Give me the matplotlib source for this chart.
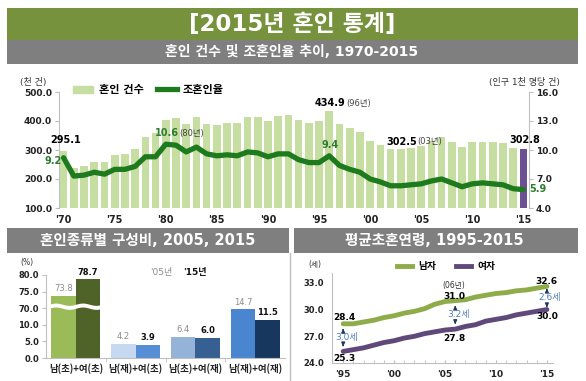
import matplotlib.pyplot as plt
from matplotlib.patches import Rectangle, Patch
from matplotlib.lines import Line2D
import numpy as np

plt.rcParams['font.family'] = ['DejaVu Sans', 'Noto Sans CJK KR']

W, H = 586, 381

# ---- data ----
years = list(range(1970, 2016))
marriages = [295.1, 239.5, 244.8, 259.1, 259.6, 283.2, 286.0, 305.1, 345.1, 358.6,
             403.0, 409.4, 390.2, 414.4, 388.8, 385.0, 394.1, 392.6, 412.3, 413.3,
             399.3, 416.9, 419.8, 402.6, 393.1, 398.5, 434.9, 388.6, 375.6, 362.7,
             332.1, 318.4, 304.9, 302.5, 308.6, 314.3, 330.6, 343.6, 327.7, 309.8,
             326.1, 329.1, 327.1, 322.8, 305.5, 302.8]
rates = [9.2, 7.3, 7.4, 7.7, 7.5, 8.0, 8.0, 8.3, 9.3, 9.3,
         10.6, 10.5, 9.8, 10.3, 9.6, 9.4, 9.5, 9.4, 9.8, 9.7,
         9.3, 9.6, 9.6, 9.0, 8.7, 8.7, 9.4, 8.4, 8.0, 7.7,
         7.0, 6.7, 6.3, 6.3, 6.4, 6.5, 6.8, 7.0, 6.6, 6.2,
         6.5, 6.6, 6.5, 6.4, 6.0, 5.9]
left_ticks = [100, 200, 300, 400, 500]
right_ticks = [4, 7, 10, 13, 16]
xtick_years = [1970, 1975, 1980, 1985, 1990, 1995, 2000, 2005, 2010, 2015]
xtick_labels = ["'70", "'75", "'80", "'85", "'90", "'95", "'00", "'05", "'10", "'15"]

types = ['남(초)+여(초)', '남(재)+여(초)', '남(초)+여(재)', '남(재)+여(재)']
share_05 = [73.8, 4.2, 6.4, 14.7]
share_15 = [78.7, 3.9, 6.0, 11.5]
share_ticks = [0.0, 5.0, 10.0, 70.0, 75.0, 80.0]

age_years = list(range(1995, 2016))
age_men = [28.4, 28.4, 28.6, 28.8, 29.1, 29.3, 29.6, 29.8, 30.1, 30.6, 30.9,
           31.0, 31.1, 31.4, 31.6, 31.8, 31.9, 32.1, 32.2, 32.4, 32.6]
age_women = [25.3, 25.5, 25.7, 26.0, 26.3, 26.5, 26.8, 27.0, 27.3, 27.5, 27.7,
             27.8, 28.1, 28.3, 28.7, 28.9, 29.1, 29.4, 29.6, 29.8, 30.0]
gap_years = [1995, 2006, 2015]
gap_labels = ['3.0세', '3.2세', '2.6세']


def fx(x):
    return x / W


def fy(y):
    return 1 - y / H


def box(fig, x0, y0, x1, y1, color):
    fig.add_artist(Rectangle((fx(x0), fy(y1)), (x1 - x0) / W, (y1 - y0) / H,
                             transform=fig.transFigure, color=color, lw=0, zorder=0))


def axes_px(fig, x0, y0, x1, y1):
    return fig.add_axes([fx(x0), fy(y1), (x1 - x0) / W, (y1 - y0) / H])


fig = plt.figure(figsize=(W / 100, H / 100), dpi=100)

# ---- banners ----
box(fig, 7, 8, 578, 40, '#76923c')
box(fig, 7, 40, 578, 64, '#7f7f7f')
fig.text(fx(292), fy(24), '[2015년 혼인 통계]', color='white', fontsize=16.5,
         fontweight='bold', ha='center', va='center')
fig.text(fx(292), fy(52), '혼인 건수 및 조혼인율 추이, 1970-2015', color='white',
         fontsize=10, fontweight='bold', ha='center', va='center')
box(fig, 7, 228, 289, 253, '#7f7f7f')
box(fig, 294, 228, 578, 253, '#7f7f7f')
fig.text(fx(148), fy(241), '혼인종류별 구성비, 2005, 2015', color='white',
         fontsize=10.5, fontweight='bold', ha='center', va='center')
fig.text(fx(434), fy(241), '평균초혼연령, 1995-2015', color='white',
         fontsize=10.5, fontweight='bold', ha='center', va='center')
fig.add_artist(Line2D([fx(290), fx(290)], [fy(253), fy(381)], transform=fig.transFigure,
                      color='#bfbfbf', lw=1))

# ---- main chart ----
ax1 = axes_px(fig, 59, 92, 529, 208)
bar_colors = ['#c6dea2'] * (len(years) - 1) + ['#6b5192']
ax1.bar(years, marriages, width=0.75, color=bar_colors, zorder=1)
ax1.set_xlim(1969.55, 2015.55)
ax1.set_ylim(100, 500)
ax1.set_yticks(left_ticks)
ax1.set_yticklabels(['%.1f' % v for v in left_ticks], fontsize=6.5, fontweight='bold',
                    color='#222222')
ax1.set_xticks(xtick_years)
ax1.set_xticklabels(xtick_labels, fontsize=7, fontweight='bold', color='#222222')
ax1.tick_params(axis='x', length=0, pad=5)
ax1.tick_params(axis='y', length=3, color='#bfbfbf', pad=2)
for s in ['top', 'bottom', 'right']:
    ax1.spines[s].set_visible(False)
ax1.spines['left'].set_color('#bfbfbf')

ax2 = ax1.twinx()
ax2.plot(years, rates, color='#1d7a1d', lw=3.8, solid_capstyle='round', zorder=3)
ax2.set_ylim(4, 16)
ax2.set_yticks(right_ticks)
ax2.set_yticklabels(['%.1f' % v for v in right_ticks], fontsize=6.5, fontweight='bold',
                    color='#222222')
ax2.tick_params(axis='y', length=3, color='#bfbfbf', pad=2)
for s in ['top', 'bottom', 'left']:
    ax2.spines[s].set_visible(False)
ax2.spines['right'].set_color('#bfbfbf')

fig.text(fx(20), fy(82), '(천 건)', fontsize=6.5, color='#333333', va='center')
fig.text(fx(560), fy(82), '(인구 1천 명당 건)', fontsize=6.5, color='#333333',
         va='center', ha='right')

ax1.text(1970.2, 318, '295.1', fontsize=7, fontweight='bold', ha='center', va='bottom')
ax2.text(1968.95, 8.85, '9.2', fontsize=7, fontweight='bold', color='#2e7d2e',
         ha='center', va='center')
t = ax2.text(1978.95, 11.75, '10.6', fontsize=7, fontweight='bold', color='#2e7d2e',
             va='center')
ax2.annotate('(80년)', xycoords=t, xy=(1, 0.5), xytext=(0.5, 0), textcoords='offset points',
             fontsize=6, color='#444444', va='center')
t = ax1.text(1994.6, 462, '434.9', fontsize=7, fontweight='bold', va='center')
ax1.annotate('(96년)', xycoords=t, xy=(1, 0.5), xytext=(0.5, 0), textcoords='offset points',
             fontsize=6, color='#444444', va='center')
ax2.text(1996.1, 10.5, '9.4', fontsize=7, fontweight='bold', color='#2e7d2e',
         ha='center', va='center')
t = ax1.text(2001.55, 328, '302.5', fontsize=7, fontweight='bold', va='center')
ax1.annotate('(03년)', xycoords=t, xy=(1, 0.5), xytext=(0.5, 0), textcoords='offset points',
             fontsize=6, color='#444444', va='center')
ax1.text(2015.1, 334, '302.8', fontsize=7, fontweight='bold', ha='center', va='center')
ax2.text(2015.6, 5.97, '5.9', fontsize=7, fontweight='bold', color='#2e7d2e',
         ha='left', va='center')

handles = [Patch(color='#c6dea2'), Line2D([0], [0], color='#1d7a1d', lw=3.8)]
fig.legend(handles, ['혼인 건수', '조혼인율'], loc='center left',
           bbox_to_anchor=(fx(63), fy(90)), ncol=2, frameon=False,
           handlelength=1.8, handleheight=0.6, columnspacing=1.2, handletextpad=0.5,
           prop={'weight': 'bold', 'size': 8})

# ---- lower left: marriage types ----
def brk(v):
    return v - 55 if v > 50 else v


ax3 = axes_px(fig, 46, 275, 285, 358)
xs = np.arange(len(types))
bw = 0.41
c05 = ['#9bbb59', '#c6d9f1', '#95b3d7', '#4a86d0']
c15 = ['#4f6228', '#558ed5', '#366092', '#17375e']
ax3.bar(xs - bw / 2, [brk(v) for v in share_05], width=bw, color=c05, zorder=2)
ax3.bar(xs + bw / 2, [brk(v) for v in share_15], width=bw, color=c15, zorder=2)
for i in range(len(types)):
    ax3.text(xs[i] - bw / 2, brk(share_05[i]) + 0.8, '%.1f' % share_05[i], fontsize=6,
             color='#8c8c8c', ha='center', va='bottom')
    ax3.text(xs[i] + bw / 2, brk(share_15[i]) + 0.8, '%.1f' % share_15[i], fontsize=6,
             fontweight='bold', color='#111111', ha='center', va='bottom')
# white wavy break across the first pair of bars
wx = np.linspace(-0.45, 0.45, 60)
wave = 0.35 * np.sin(wx * 2 * np.pi / 0.45)
ax3.fill_between(wx, 15.0 + wave, 16.2 + wave, color='white', zorder=3, lw=0)
ax3.set_xlim(-0.5, 3.5)
ax3.set_ylim(0, 25)
ax3.set_yticks([brk(v) for v in share_ticks])
ax3.set_yticklabels(['%.1f' % v for v in share_ticks], fontsize=6, fontweight='bold',
                    color='#222222')
ax3.set_xticks(xs)
ax3.set_xticklabels(types, fontsize=6.8, fontweight='bold', color='#222222',
                    family='Noto Sans CJK KR')
ax3.set_xticks([0.5, 1.5, 2.5], minor=True)
ax3.tick_params(axis='x', which='major', length=0, pad=4)
ax3.tick_params(axis='x', which='minor', length=3, color='#bfbfbf')
ax3.tick_params(axis='y', length=3, color='#bfbfbf', pad=2)
for s in ['top', 'right']:
    ax3.spines[s].set_visible(False)
for s in ['left', 'bottom']:
    ax3.spines[s].set_color('#bfbfbf')
fig.text(fx(20), fy(263), '(%)', fontsize=5.5, color='#333333', va='center')
fig.text(fx(150), fy(273), "'05년", fontsize=6.5, color='#8c8c8c', va='center')
fig.text(fx(183), fy(273), "'15년", fontsize=6.5, fontweight='bold', color='#111111',
         va='center')

# ---- lower right: mean age at first marriage ----
ax4 = axes_px(fig, 332, 273, 553, 363)
ax4.plot(age_years, age_men, color='#8eac4a', lw=3.5, solid_capstyle='round', zorder=3)
ax4.plot(age_years, age_women, color='#60497a', lw=3.5, solid_capstyle='round', zorder=3)
ax4.set_xlim(1993.9, 2015.6)
ax4.set_ylim(24, 34.1)
ax4.set_yticks([24, 27, 30, 33])
ax4.set_yticklabels(['24.0', '27.0', '30.0', '33.0'], fontsize=6, fontweight='bold',
                    color='#222222')
ax4.set_xticks([1995, 2000, 2005, 2010, 2015])
ax4.set_xticklabels(["'95", "'00", "'05", "'10", "'15"], fontsize=6.5, fontweight='bold',
                    color='#222222')
ax4.set_xticks(age_years, minor=True)
ax4.tick_params(axis='x', which='both', direction='in', length=2.5, color='#bfbfbf', pad=5)
ax4.tick_params(axis='y', length=0, pad=6)
for s in ['top', 'right']:
    ax4.spines[s].set_visible(False)
for s in ['left', 'bottom']:
    ax4.spines[s].set_color('#bfbfbf')

gap_col = '#4f7fbf'
arrow_col = '#1f3864'
for yr, lab in zip(gap_years, gap_labels):
    i = age_years.index(yr)
    m, w = age_men[i], age_women[i]
    ty = (m + w) / 2
    ax4.annotate('', xy=(yr, m - 0.25), xytext=(yr, ty + 0.55),
                 arrowprops=dict(arrowstyle='-|>', color=arrow_col, lw=1, mutation_scale=5))
    ax4.annotate('', xy=(yr, w + 0.25), xytext=(yr, ty - 0.55),
                 arrowprops=dict(arrowstyle='-|>', color=arrow_col, lw=1, mutation_scale=5))
    ax4.text(yr + 0.3, ty, lab, fontsize=6.5, color=gap_col, ha='center',
             va='center', zorder=5)
ax4.text(1995.1, 29.15, '28.4', fontsize=6.5, fontweight='bold', ha='center', va='center')
ax4.text(1995.1, 24.55, '25.3', fontsize=6.5, fontweight='bold', ha='center', va='center')
ax4.text(2005.9, 32.75, '(06년)', fontsize=5.5, color='#333333', ha='center', va='center')
ax4.text(2005.9, 31.45, '31.0', fontsize=6.5, fontweight='bold', ha='center', va='center')
ax4.text(2005.9, 26.8, '27.8', fontsize=6.5, fontweight='bold', ha='center', va='center')
ax4.text(2015.0, 33.2, '32.6', fontsize=6.5, fontweight='bold', ha='center', va='center')
ax4.text(2015.0, 29.2, '30.0', fontsize=6.5, fontweight='bold', ha='center', va='center')

fig.text(fx(308), fy(265), '(세)', fontsize=5.5, color='#333333', va='center')
handles = [Line2D([0], [0], color='#8eac4a', lw=3.5), Line2D([0], [0], color='#60497a', lw=3.5)]
fig.legend(handles, ['남자', '여자'], loc='center left', bbox_to_anchor=(fx(388), fy(266)),
           ncol=2, frameon=False, handlelength=1.6, columnspacing=2.0, handletextpad=0.6,
           prop={'weight': 'bold', 'size': 7})

fig.savefig('out.png', dpi=100)
